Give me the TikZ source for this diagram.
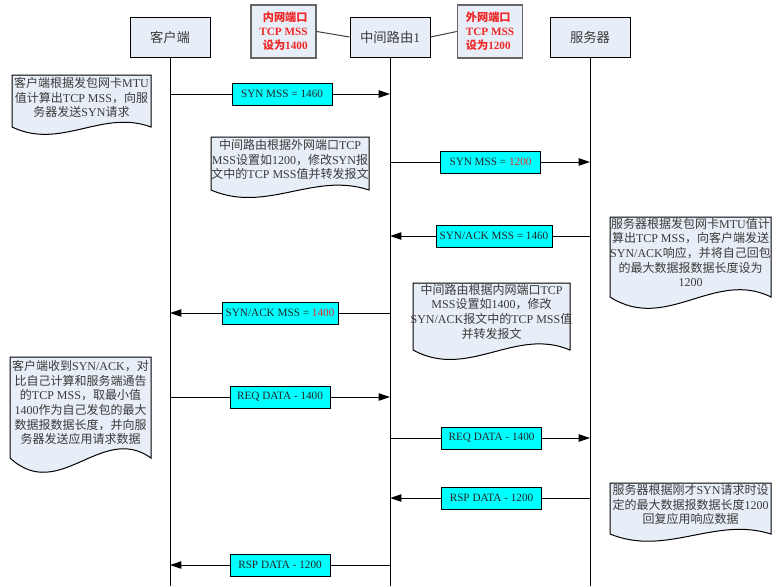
\documentclass[tikz,border=0pt]{standalone}
\usepackage{fontspec}
\setmainfont{Liberation Serif}
\newfontfamily\cjk{Noto Sans CJK SC}
\usetikzlibrary{arrows.meta}
% switch to the CJK font for Chinese characters
\XeTeXinterchartokenstate=1
\newXeTeXintercharclass\cjkcls
\newcount\cjkn
\newcommand\setcjkrange[2]{\cjkn=#1\relax
  \loop\XeTeXcharclass\cjkn=\cjkcls\relax
  \ifnum\cjkn<#2\relax\advance\cjkn by 1\repeat}
\setcjkrange{"3000}{"303F}
\setcjkrange{"4E00}{"9FFF}
\setcjkrange{"FF00}{"FFEF}
\XeTeXinterchartoks 0 \cjkcls = {\cjk}
\XeTeXinterchartoks 4095 \cjkcls = {\cjk}
\XeTeXinterchartoks \cjkcls 0 = {\rmfamily}
\definecolor{boxfill}{HTML}{E8EEF7}
\definecolor{msgfill}{HTML}{00FFFF}
\definecolor{textgray}{HTML}{3A3A3A}
\definecolor{portred}{HTML}{F02828}
\definecolor{portgray}{HTML}{666666}
\definecolor{msgred}{HTML}{E03030}
% document shape with a wavy bottom: x1, y1, x2, y2
\newcommand{\docshape}[4]{%
  \filldraw[noteshape] (#1,#2) -- (#1,#4)
    .. controls ({#1+0.35*(#3-#1)},{#4+0.45*(#4-#2)}) and ({#1+0.65*(#3-#1)},{#4-0.35*(#4-#2)}) .. (#3,#4)
    -- (#3,#2) -- cycle;}
\begin{document}
\begin{tikzpicture}[
        x=0.75pt, y=-0.75pt,
        line width=0.75pt,
        font=\fontsize{9}{11}\selectfont
    ]
    \tikzset{
        hostbox/.style = {draw=black, fill=boxfill, minimum width=60pt, minimum height=30pt, text=textgray, font=\fontsize{10}{12}\selectfont},
        portbox/.style = {draw=portgray, line width=1.1pt, fill=boxfill, minimum width=48.75pt, minimum height=39.75pt, text=portred, font=\fontsize{8.4}{10.5}\selectfont\bfseries},
        msgbox/.style = {draw=black, fill=msgfill, minimum width=75pt, minimum height=16.5pt, inner sep=1pt, text=black!85, font=\fontsize{8.4}{10}\selectfont},
        notetext/.style = {align=center, text=textgray},
        noteshape/.style = {draw=black, fill=boxfill},
        msg/.style = {-{Triangle[length=8.5pt,width=5.5pt]}},
        link/.style = {draw=black!75},
    }
    \useasboundingbox (0,0) rectangle (780,586);
    \node[hostbox] at (170,37) (client) {客户端};
    \node[hostbox] at (390,37) (router) {中间路由1};
    \node[hostbox] at (590,37) (server) {服务器};
    \node[portbox, align=right] at (283.5,31.5) (inport) {内网端口\\TCP MSS\\设为1400};
    \node[portbox, align=left] at (490,31.5) (outport) {外网端口\\TCP MSS\\设为1200};
    \draw[link] (inport.east) -- (router.west);
    \draw[link] (router.east) -- (outport.west);
    %
    \coordinate (bottom) at (0,586);
    \foreach \h in {client,router,server}
        \draw (\h.south) -- (\h.south |- bottom);
    %
    \docshape{12}{75}{151}{127}
    \node[notetext] at (81.5,97.5) (cnote1) {客户端根据发包网卡MTU\\值计算出TCP MSS，向服\\务器发送SYN请求};
    \docshape{211}{137}{369}{190}
    \node[notetext] at (290,159.5) (rnote1) {中间路由根据外网端口TCP\\MSS设置如1200，修改SYN报\\文中的TCP MSS值并转发报文};
    \docshape{610}{217}{771}{297}
    \node[notetext] at (690.5,252.5) (snote1) {服务器根据发包网卡MTU值计\\算出TCP MSS，向客户端发送\\SYN/ACK响应，并将自己回包\\的最大数据报数据长度设为\\1200};
    \docshape{413}{283}{570}{350}
    \node[notetext] at (491.5,311.5) (rnote2) {中间路由根据内网端口TCP\\MSS设置如1400，修改\\SYN/ACK报文中的TCP MSS值\\并转发报文};
    \docshape{10}{357}{151}{458}
    \node[notetext] at (80.5,402.5) (cnote2) {客户端收到SYN/ACK，对\\比自己计算和服务端通告\\的TCP MSS，取最小值\\1400作为自己发包的最大\\数据报数据长度，并向服\\务器发送应用请求数据};
    \docshape{610}{483}{771}{534}
    \node[notetext] at (690.5,504.5) (snote2) {服务器根据刚才SYN请求时设\\定的最大数据报数据长度1200\\回复应用响应数据};
    %
    \node[msgbox] at (282,94) (syn1) {SYN MSS = 1460};
    \node[msgbox] at (490.5,162) (syn2) {SYN MSS = \textcolor{msgred}{1200}};
    \node[msgbox, minimum width=87pt] at (494,236) (ack1) {SYN/ACK MSS = 1460};
    \node[msgbox, minimum width=87pt] at (280,313) (ack2) {SYN/ACK MSS = \textcolor{msgred}{1400}};
    \node[msgbox] at (280,397) (req1) {REQ DATA - 1400};
    \node[msgbox] at (491.5,438) (req2) {REQ DATA - 1400};
    \node[msgbox] at (491.5,498) (rsp1) {RSP DATA - 1200};
    \node[msgbox] at (280,565) (rsp2) {RSP DATA - 1200};
    %
    \draw[msg] (client |- syn1) -- (syn1) -- (router |- syn1);
    \draw[msg] (router |- syn2) -- (syn2) -- (server |- syn2);
    \draw[msg] (server |- ack1) -- (ack1) -- (router |- ack1);
    \draw[msg] (router |- ack2) -- (ack2) -- (client |- ack2);
    \draw[msg] (client |- req1) -- (req1) -- (router |- req1);
    \draw[msg] (router |- req2) -- (req2) -- (server |- req2);
    \draw[msg] (server |- rsp1) -- (rsp1) -- (router |- rsp1);
    \draw[msg] (router |- rsp2) -- (rsp2) -- (client |- rsp2);
\end{tikzpicture}
\end{document}
